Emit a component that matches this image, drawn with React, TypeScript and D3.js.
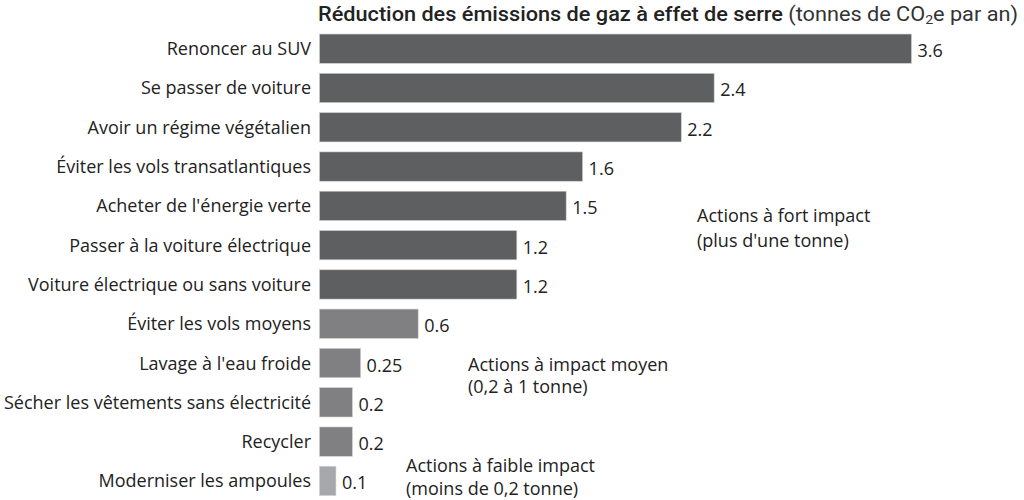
import React from "react";
import * as d3 from "d3";

const categories = [
  "Renoncer au SUV",
  "Se passer de voiture",
  "Avoir un régime végétalien",
  "Éviter les vols transatlantiques",
  "Acheter de l'énergie verte",
  "Passer à la voiture électrique",
  "Voiture électrique ou sans voiture",
  "Éviter les vols moyens",
  "Lavage à l'eau froide",
  "Sécher les vêtements sans électricité",
  "Recycler",
  "Moderniser les ampoules",
];
const values = [3.6, 2.4, 2.2, 1.6, 1.5, 1.2, 1.2, 0.6, 0.25, 0.2, 0.2, 0.1];
const valueLabels = ["3.6", "2.4", "2.2", "1.6", "1.5", "1.2", "1.2", "0.6", "0.25", "0.2", "0.2", "0.1"];
const groups = ["fort", "fort", "fort", "fort", "fort", "fort", "fort", "moyen", "moyen", "moyen", "moyen", "faible"];
const groupColors: Record<string, string> = { fort: "#5e5f61", moyen: "#808083", faible: "#a7a8ab" };

const W = 1024;
const H = 500;
const FONT = "'Open Sans', Roboto, sans-serif";
const TITLE_FONT = "Roboto, sans-serif";

export default function App() {
  const x = d3.scaleLinear().domain([0, 3.6]).range([319.5, 911.5]);
  const y = d3
    .scaleBand<string>()
    .domain(categories)
    .range([29, 500.6])
    .paddingInner(0.254)
    .paddingOuter(0.128);

  return (
    <svg
      width={W}
      height={H}
      style={{ position: "absolute", left: 0, top: 0, background: "#fff" }}
      fontFamily={FONT}
    >
      <text x={318} y={21} fontSize={20} fill="#222" fontFamily={TITLE_FONT} textLength={700} lengthAdjust="spacingAndGlyphs">
        <tspan fontWeight={500}>Réduction des émissions de gaz à effet de serre</tspan>
        <tspan fontWeight={400} fill="#333"> (tonnes de CO</tspan>
        <tspan fontWeight={400} fill="#333" fontSize={13} dy={3}>2</tspan>
        <tspan fontWeight={400} fill="#333" dy={-3}>e par an)</tspan>
      </text>
      {categories.map((c, i) => {
        const yy = y(c)!;
        const bw = y.bandwidth();
        return (
          <g key={c}>
            <rect
              x={x(0)}
              y={yy}
              width={x(values[i]) - x(0)}
              height={bw}
              fill={groupColors[groups[i]]}
              stroke="#d0d0d0"
              strokeWidth={0.6}
            />
            <text
              x={311}
              y={yy + bw / 2}
              dy="0.36em"
              textAnchor="end"
              fontSize={18}
              fill="#222"
            >
              {c}
            </text>
            <text
              x={x(values[i]) + 6}
              y={yy + bw / 2 + 2}
              dy="0.36em"
              fontSize={18}
              fill="#222"
            >
              {valueLabels[i]}
            </text>
          </g>
        );
      })}
      <text fontSize={18} fill="#222">
        <tspan x={697} y={222}>Actions à fort impact</tspan>
        <tspan x={697} y={247}>(plus d'une tonne)</tspan>
      </text>
      <text fontSize={18} fill="#222">
        <tspan x={468} y={371}>Actions à impact moyen</tspan>
        <tspan x={468} y={393}>(0,2 à 1 tonne)</tspan>
      </text>
      <text fontSize={18} fill="#222">
        <tspan x={406} y={472}>Actions à faible impact</tspan>
        <tspan x={406} y={495}>(moins de 0,2 tonne)</tspan>
      </text>
    </svg>
  );
}
